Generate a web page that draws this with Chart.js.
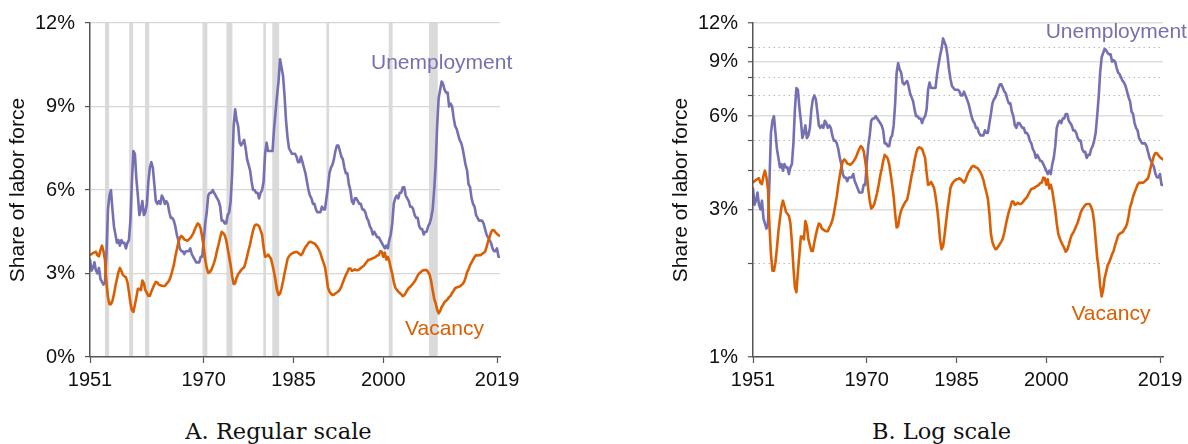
<!DOCTYPE html>
<html><head><meta charset="utf-8">
<script src="https://cdn.jsdelivr.net/npm/chart.js@4.4.1/dist/chart.umd.min.js"></script>
<style>
html,body{margin:0;padding:0;background:#fff;width:1188px;height:444px;overflow:hidden}
.box{position:absolute;top:0;width:525px;height:400px}
.cap{position:absolute;font-family:"DejaVu Serif",serif;font-size:22.5px;line-height:1;color:#111;white-space:nowrap;transform:translateX(-50%)}
</style></head><body>
<div class="box" style="left:0"><canvas id="cA" width="525" height="400"></canvas></div>
<div class="box" style="left:663px"><canvas id="cB" width="525" height="400"></canvas></div>
<div class="cap" style="left:278.5px;top:420px">A. Regular scale</div>
<div class="cap" style="left:941.5px;top:420px">B. Log scale</div>
<script>
// Quarterly data, 1951Q1 .. 2019Q3
const firstYear = 1951;
const unemployment = [
3.5,3.1,3.2,3.4, 3.1,3.0,3.2,2.8, 2.7,2.6,2.7,3.7, 5.3,5.8,6.0,5.3, 4.7,4.4,4.1,4.2,
4.0,4.2,4.1,4.1, 3.9,4.1,4.2,4.9, 6.3,7.4,7.3,6.4, 5.8,5.1,5.3,5.6, 5.1,5.2,5.5,6.3,
6.8,7.0,6.8,6.2, 5.6,5.5,5.6,5.5, 5.8,5.7,5.5,5.6, 5.5,5.2,5.0,5.0, 4.9,4.7,4.4,4.2,
3.9,3.8,3.8,3.7, 3.8,3.8,3.8,3.9, 3.7,3.6,3.5,3.4, 3.4,3.4,3.6,3.6, 4.2,4.8,5.2,5.8,
5.9,5.9,6.0,5.9, 5.8,5.7,5.6,5.4, 4.9,4.9,4.8,4.8, 5.1,5.2,5.6,6.6, 8.3,8.9,8.5,8.3,
7.7,7.6,7.7,7.8, 7.5,7.1,6.9,6.7, 6.3,6.0,6.0,5.9, 5.9,5.7,5.9,6.0, 6.3,7.3,7.7,7.4,
7.4,7.4,7.4,8.2, 8.8,9.4,9.9,10.7, 10.4,10.1,9.4,8.5, 7.9,7.5,7.4,7.3, 7.3,7.3,7.2,7.0,
7.0,7.2,7.0,6.8, 6.6,6.3,6.0,5.8, 5.7,5.5,5.5,5.3, 5.2,5.2,5.2,5.4, 5.3,5.3,5.7,6.1,
6.6,6.8,6.9,7.1, 7.4,7.6,7.6,7.4, 7.2,7.1,6.8,6.6, 6.6,6.2,6.0,5.6, 5.5,5.7,5.7,5.6,
5.5,5.5,5.3,5.3, 5.2,5.0,4.9,4.7, 4.6,4.4,4.5,4.4, 4.3,4.3,4.2,4.1, 4.0,3.9,4.0,3.9,
4.2,4.4,4.8,5.5, 5.7,5.8,5.7,5.9, 5.9,6.1,6.1,5.8, 5.7,5.6,5.4,5.4, 5.3,5.1,5.0,5.0,
4.7,4.6,4.6,4.4, 4.5,4.5,4.7,4.8, 5.0,5.3,6.0,6.9, 8.3,9.3,9.6,9.9, 9.8,9.6,9.5,9.5,
9.0,9.1,9.0,8.6, 8.3,8.2,8.0,7.8, 7.7,7.5,7.2,6.9, 6.7,6.2,6.1,5.7, 5.5,5.4,5.1,5.0,
4.9,4.9,4.9,4.8, 4.6,4.4,4.3,4.2, 4.1,3.9,3.8,3.8, 3.9,3.6,3.6
];
const vacancy = [
3.67,3.70,3.73,3.76, 3.78,3.65,3.62,3.85, 4.00,3.80,3.49,2.65, 2.15,1.90,1.90,2.02, 2.25,2.55,2.80,3.05,
3.20,3.08,2.95,2.90, 2.86,2.70,2.35,1.95, 1.68,1.62,1.88,2.15, 2.45,2.45,2.40,2.75, 2.65,2.40,2.30,2.20,
2.20,2.35,2.48,2.60, 2.70,2.68,2.60,2.58, 2.56,2.55,2.55,2.62, 2.68,2.76,2.90,3.10, 3.30,3.60,3.85,4.10,
4.28,4.35,4.30,4.22, 4.20,4.18,4.22,4.27, 4.35,4.44,4.58,4.70, 4.80,4.75,4.62,4.30, 3.95,3.50,3.20,3.02,
3.05,3.12,3.25,3.40, 3.60,3.85,4.05,4.30, 4.50,4.45,4.38,4.20, 3.90,3.60,3.30,2.90, 2.62,2.65,2.85,2.97,
3.05,3.12,3.18,3.22, 3.40,3.62,3.85,4.05, 4.32,4.55,4.72,4.76, 4.74,4.70,4.55,4.40, 3.95,3.60,3.62,3.68,
3.60,3.52,3.30,3.05, 2.75,2.40,2.23,2.28, 2.47,2.72,3.00,3.25, 3.52,3.62,3.68,3.72, 3.75,3.76,3.78,3.75,
3.70,3.66,3.72,3.85, 3.95,4.02,4.10,4.14, 4.13,4.10,4.08,4.02, 3.95,3.85,3.73,3.55, 3.40,3.24,2.90,2.50,
2.35,2.28,2.23,2.24, 2.28,2.32,2.36,2.42, 2.53,2.68,2.82,2.95, 3.05,3.18,3.18,3.10, 3.12,3.15,3.12,3.12,
3.15,3.20,3.24,3.28, 3.35,3.42,3.49,3.50, 3.52,3.55,3.57,3.60, 3.65,3.66,3.80,3.78, 3.60,3.75,3.50,3.60,
3.45,3.20,2.98,2.70, 2.50,2.42,2.35,2.30, 2.25,2.19,2.22,2.30, 2.40,2.48,2.52,2.58, 2.65,2.72,2.82,2.93,
3.00,3.05,3.10,3.12, 3.12,3.12,3.05,2.95, 2.72,2.40,2.10,1.93, 1.70,1.57,1.65,1.80, 1.88,1.98,2.02,2.08,
2.15,2.20,2.30,2.38, 2.47,2.50,2.52,2.53, 2.58,2.62,2.70,2.85, 3.05,3.15,3.30,3.40, 3.50,3.60,3.66,3.65,
3.66,3.66,3.70,3.74, 3.78,3.95,4.15,4.30, 4.48,4.56,4.55,4.48, 4.42,4.38,4.35
];
const xTicks = [1951, 1970, 1985, 2000, 2019];
const linearTicks = [0, 3, 6, 9, 12];
const logTicks = [1, 2, 3, 4, 5, 6, 7, 8, 9, 10, 12];
const logLabels = [1, 3, 6, 9, 12];
const recessionStart = [1953.5, 1957.55, 1960.2, 1969.8, 1973.8, 1979.95, 1981.45, 1990.5, 2000.9, 2007.65];
const recessionEnd   = [1954.2, 1958.2, 1960.9, 1970.6, 1974.8, 1980.4, 1982.6, 1990.95, 2001.55, 2009.1];

const PURPLE = '#7570b3', ORANGE = '#d95f02', AXIS = '#555', TEXT = '#111';
const toPoints = arr => arr.map((v, i) => ({x: firstYear + i / 4, y: v}));

Chart.defaults.font.family = '"Liberation Sans", Arial, sans-serif';
Chart.defaults.color = TEXT;
Chart.defaults.animation = false;

const recessionPlugin = {
  id: 'recessions',
  beforeDraw(chart, args, opts) {
    if (!opts.show) return;
    const {ctx, chartArea, scales: {x}} = chart;
    ctx.save();
    ctx.fillStyle = '#dadada';
    recessionStart.forEach((s, i) => {
      const x0 = x.getPixelForValue(s), x1 = x.getPixelForValue(recessionEnd[i]);
      ctx.fillRect(x0, chartArea.top, x1 - x0, chartArea.bottom - chartArea.top);
    });
    ctx.restore();
  }
};
const labelPlugin = {
  id: 'seriesLabels',
  afterDatasetsDraw(chart, args, opts) {
    const {ctx, scales: {x, y}} = chart;
    ctx.save();
    ctx.font = '21px "Liberation Sans", Arial, sans-serif';
    ctx.textAlign = 'left';
    ctx.textBaseline = 'alphabetic';
    (opts.items || []).forEach(it => {
      ctx.fillStyle = it.color;
      ctx.fillText(it.text, x.getPixelForValue(it.x), y.getPixelForValue(it.y));
    });
    ctx.restore();
  }
};

function makeChart(id, isLog, labels) {
  const yScale = isLog ? {
    type: 'logarithmic', min: 1, max: 12,
    afterBuildTicks: s => { s.ticks = logTicks.map(v => ({value: v})); },
    ticks: { autoSkip: false, font: {size: 20}, color: TEXT, padding: 10,
      callback: v => logLabels.includes(v) ? v + '%' : '' },
    grid: {
      color: c => (c.tick && !logLabels.includes(c.tick.value)) ? '#b8b8b8' : '#dedede',
      lineWidth: c => (c.tick && !logLabels.includes(c.tick.value)) ? 1 : 1.5,
      tickLength: 5, tickColor: AXIS, tickWidth: 1.2
    },
    border: { color: AXIS, width: 1.5, z: 1,
      dash: c => (c.tick && !logLabels.includes(c.tick.value)) ? [1.5, 3.5] : [] }
  } : {
    type: 'linear', min: 0, max: 12,
    afterBuildTicks: s => { s.ticks = linearTicks.map(v => ({value: v})); },
    ticks: { autoSkip: false, font: {size: 20}, color: TEXT, padding: 10, callback: v => v + '%' },
    grid: { color: c => (c.tick && c.tick.value === 0) ? 'rgba(0,0,0,0)' : '#d8d8d8',
      lineWidth: 1.2, tickLength: 5, tickColor: AXIS, tickWidth: 1.2 },
    border: { color: AXIS, width: 1.5, z: 1 }
  };
  yScale.afterFit = s => { s.width = 90; };
  yScale.title = { display: true, text: 'Share of labor force', font: {size: 21}, color: TEXT, padding: {top: 6, bottom: 0} };

  return new Chart(document.getElementById(id), {
    type: 'line',
    data: { datasets: [
      { label: 'Vacancy', data: toPoints(vacancy), borderColor: ORANGE },
      { label: 'Unemployment', data: toPoints(unemployment), borderColor: PURPLE }
    ]},
    options: {
      responsive: false, events: [],
      layout: { padding: {top: 23, right: 25, bottom: 3, left: 0} },
      elements: { point: {radius: 0}, line: {borderWidth: 2.6, tension: 0, borderJoinStyle: 'round', borderCapStyle: 'round', fill: false} },
      plugins: { legend: {display: false}, tooltip: {enabled: false},
        recessions: { show: !isLog },
        seriesLabels: { items: labels } },
      scales: {
        x: {
          type: 'linear', min: 1951, max: 2019.5,
          afterBuildTicks: s => { s.ticks = xTicks.map(v => ({value: v})); },
          afterFit: s => { s.height = 40; },
          ticks: { autoSkip: false, maxRotation: 0, font: {size: 20}, color: TEXT, padding: 5, callback: v => String(v) },
          grid: { drawOnChartArea: false, tickLength: 6, tickColor: AXIS, tickWidth: 1.2 },
          border: { color: AXIS, width: 1.5, z: 1 }
        },
        y: yScale
      }
    },
    plugins: [recessionPlugin, labelPlugin]
  });
}

makeChart('cA', false, [
  {text: 'Unemployment', x: 1997.95, y: 10.36, color: PURPLE},
  {text: 'Vacancy', x: 2003.63, y: 0.79, color: ORANGE}
]);
makeChart('cB', true, [
  {text: 'Unemployment', x: 1999.9, y: 10.76, color: PURPLE},
  {text: 'Vacancy', x: 2004.2, y: 1.317, color: ORANGE}
]);
</script>
</body></html>
